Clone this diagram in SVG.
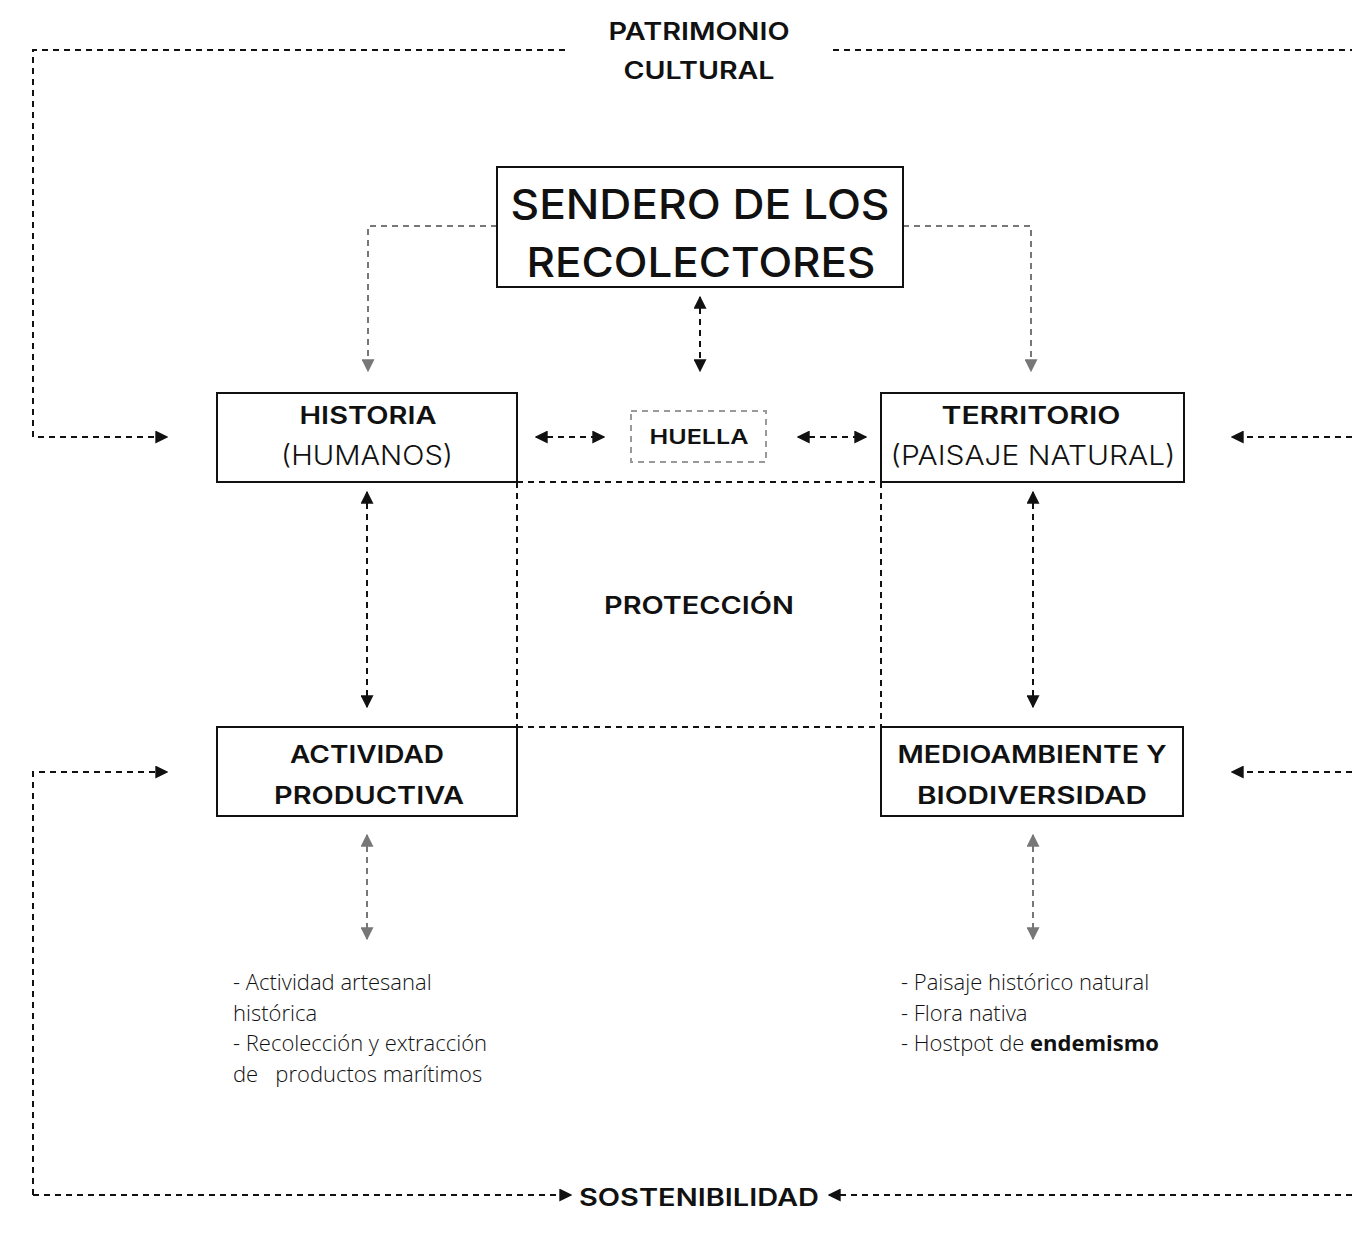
<svg xmlns="http://www.w3.org/2000/svg" width="1352" height="1235" viewBox="0 0 1352 1235">
<defs>
<style>
.blk{fill:none;stroke:#111;stroke-width:2;stroke-dasharray:6 5}
.gry{fill:none;stroke:#777;stroke-width:2;stroke-dasharray:6 5}
.box{fill:#fff;stroke:#111;stroke-width:2}
.h{font-family:Inter,"Noto Sans",sans-serif;font-weight:600;font-size:24px;fill:#111;text-anchor:middle}
.t{font-family:Inter,"Noto Sans",sans-serif;font-weight:500;font-size:41px;fill:#111;text-anchor:middle}
.l{font-family:Inter,"Noto Sans",sans-serif;font-weight:300;font-size:27px;fill:#111;text-anchor:middle}
.li{font-family:"Open Sans","Noto Sans",sans-serif;font-weight:300;font-size:22px;fill:#111}
</style>
<marker id="ab" viewBox="0 0 10 10" refX="9" refY="5" markerWidth="13" markerHeight="13" markerUnits="userSpaceOnUse" orient="auto-start-reverse"><path d="M0,0 L10,5 L0,10 z" fill="#111"/></marker>
<marker id="ag" viewBox="0 0 10 10" refX="9" refY="5" markerWidth="13" markerHeight="13" markerUnits="userSpaceOnUse" orient="auto-start-reverse"><path d="M0,0 L10,5 L0,10 z" fill="#777"/></marker>
</defs>
<rect width="1352" height="1235" fill="#fff"/>
<g id="connectors">
<path class="blk" d="M565,50 H33 V437 H167" marker-end="url(#ab)"/>
<path class="blk" d="M833,50 H1352"/>
<path class="blk" d="M1352,437 H1232" marker-end="url(#ab)"/>
<path class="blk" d="M33,1195 V772 H167" marker-end="url(#ab)"/>
<path class="blk" d="M33,1195 H571" marker-end="url(#ab)"/>
<path class="blk" d="M1352,1195 H829" marker-end="url(#ab)"/>
<path class="blk" d="M1352,772 H1232" marker-end="url(#ab)"/>
<path class="gry" d="M497,226 H368 V371" marker-end="url(#ag)"/>
<path class="gry" d="M903,226 H1031 V371" marker-end="url(#ag)"/>
<path class="blk" d="M700,297 V371" marker-start="url(#ab)" marker-end="url(#ab)"/>
<path class="blk" d="M536,437 H604" marker-start="url(#ab)" marker-end="url(#ab)"/>
<path class="blk" d="M798,437 H866" marker-start="url(#ab)" marker-end="url(#ab)"/>
<path class="blk" d="M517,482 H881 M517,727 H881 M517,482 V727 M881,482 V727"/>
<path class="blk" d="M367,492 V707" marker-start="url(#ab)" marker-end="url(#ab)"/>
<path class="blk" d="M1033,492 V707" marker-start="url(#ab)" marker-end="url(#ab)"/>
<path class="gry" d="M367,835 V939" marker-start="url(#ag)" marker-end="url(#ag)"/>
<path class="gry" d="M1033,835 V939" marker-start="url(#ag)" marker-end="url(#ag)"/>
</g>
<g id="patrimonio">
<text class="h" x="699" y="40" textLength="181" lengthAdjust="spacingAndGlyphs">PATRIMONIO</text>
<text class="h" x="699" y="79" textLength="151" lengthAdjust="spacingAndGlyphs">CULTURAL</text>
</g>
<g id="sendero">
<rect class="box" x="497" y="167" width="406" height="120"/>
<text class="t" x="700" y="219" textLength="379" lengthAdjust="spacingAndGlyphs">SENDERO DE LOS</text>
<text class="t" x="701" y="277" textLength="349" lengthAdjust="spacingAndGlyphs">RECOLECTORES</text>
</g>
<g id="historia">
<rect class="box" x="217" y="393" width="300" height="89"/>
<text class="h" x="368" y="424" textLength="137" lengthAdjust="spacingAndGlyphs">HISTORIA</text>
<text class="l" x="367" y="465" textLength="172" lengthAdjust="spacingAndGlyphs">(HUMANOS)</text>
</g>
<g id="huella">
<rect x="631" y="411" width="135" height="51" fill="#fff" stroke="#999" stroke-width="2" stroke-dasharray="6 5"/>
<text class="h" x="699" y="444" style="font-size:20px" textLength="99" lengthAdjust="spacingAndGlyphs">HUELLA</text>
</g>
<g id="territorio">
<rect class="box" x="881" y="393" width="303" height="89"/>
<text class="h" x="1031" y="424" textLength="179" lengthAdjust="spacingAndGlyphs">TERRITORIO</text>
<text class="l" x="1033" y="465" textLength="285" lengthAdjust="spacingAndGlyphs">(PAISAJE NATURAL)</text>
</g>
<g id="proteccion">
<text class="h" x="699" y="614" textLength="190" lengthAdjust="spacingAndGlyphs">PROTECCIÓN</text>
</g>
<g id="actividad">
<rect class="box" x="217" y="727" width="300" height="89"/>
<text class="h" x="367" y="763" textLength="154" lengthAdjust="spacingAndGlyphs">ACTIVIDAD</text>
<text class="h" x="369" y="804" textLength="190" lengthAdjust="spacingAndGlyphs">PRODUCTIVA</text>
</g>
<g id="medioambiente">
<rect class="box" x="881" y="727" width="302" height="89"/>
<text class="h" x="1032" y="763" textLength="269" lengthAdjust="spacingAndGlyphs">MEDIOAMBIENTE Y</text>
<text class="h" x="1032" y="804" textLength="230" lengthAdjust="spacingAndGlyphs">BIODIVERSIDAD</text>
</g>
<g id="lista-actividad">
<text class="li" x="233" y="990">- Actividad artesanal</text>
<text class="li" x="233" y="1021">histórica</text>
<text class="li" x="233" y="1051">- Recolección y extracción</text>
<text class="li" x="233" y="1082" xml:space="preserve">de   productos marítimos</text>
</g>
<g id="lista-medio">
<text class="li" x="901" y="990">- Paisaje histórico natural</text>
<text class="li" x="901" y="1021">- Flora nativa</text>
<text class="li" x="901" y="1051">- Hostpot de <tspan font-weight="700">endemismo</tspan></text>
</g>
<g id="sostenibilidad">
<text class="h" x="699" y="1206" textLength="240" lengthAdjust="spacingAndGlyphs">SOSTENIBILIDAD</text>
</g>
</svg>
